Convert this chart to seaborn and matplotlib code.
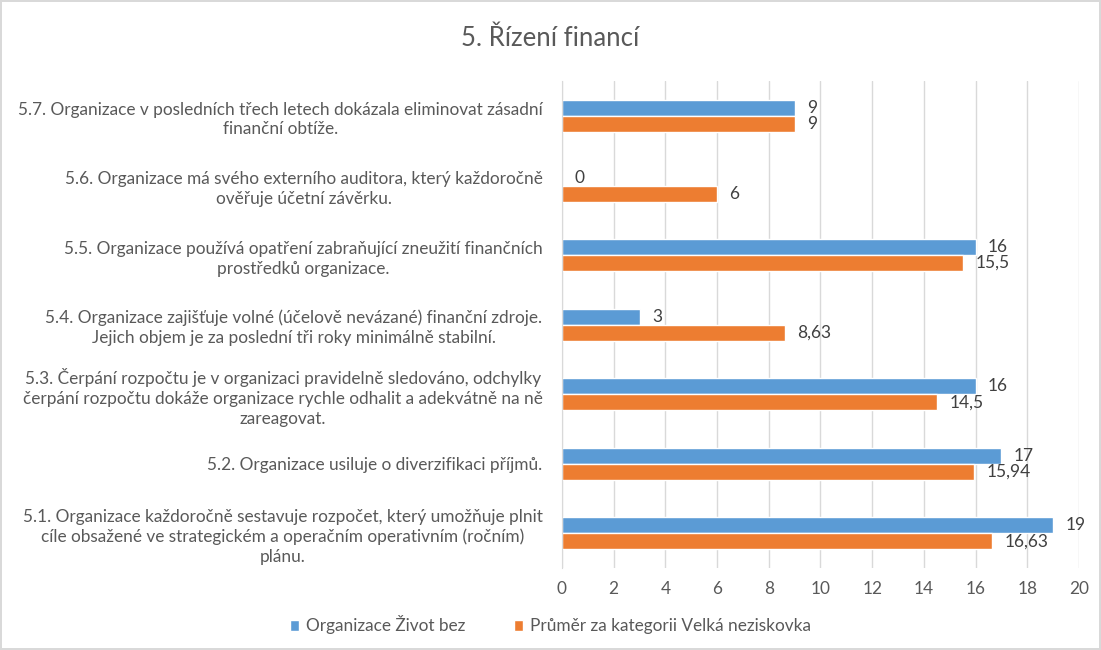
import pandas as pd
import matplotlib.pyplot as plt
import seaborn as sns

otazky = [
    "5.7. Organizace v posledních třech letech dokázala eliminovat zásadní\nfinanční obtíže.",
    "5.6. Organizace má svého externího auditora, který každoročně\nověřuje účetní závěrku.",
    "5.5. Organizace používá opatření zabraňující zneužití finančních\nprostředků organizace.",
    "5.4. Organizace zajišťuje volné (účelově nevázané) finanční zdroje.\nJejich objem je za poslední tři roky minimálně stabilní.",
    "5.3. Čerpání rozpočtu je v organizaci pravidelně sledováno, odchylky\nčerpání rozpočtu dokáže organizace rychle odhalit a adekvátně na ně\nzareagovat.",
    "5.2. Organizace usiluje o diverzifikaci příjmů.",
    "5.1. Organizace každoročně sestavuje rozpočet, který umožňuje plnit\ncíle obsažené ve strategickém a operačním operativním (ročním)\nplánu.",
]
organizace = [9, 0, 16, 3, 16, 17, 19]
prumer = [9, 6, 15.5, 8.63, 14.5, 15.94, 16.63]
serie = ["Organizace Život bez", "Průměr za kategorii Velká neziskovka"]
barvy = ["#5B9BD5", "#ED7D31"]

df = pd.DataFrame({
    "otazka": otazky * 2,
    "hodnota": organizace + prumer,
    "serie": [serie[0]] * len(otazky) + [serie[1]] * len(otazky),
})

sns.set_style("white")
plt.rcParams["font.family"] = ["Lato", "DejaVu Sans"]

fig = plt.figure(figsize=(11.01, 6.5), dpi=100, edgecolor="#d9d9d9", linewidth=1.5)
ax = fig.add_axes([0.5104, 0.126, 0.4696, 0.749])

sns.barplot(df, x="hodnota", y="otazka", hue="serie", palette=barvy,
            orient="h", width=0.46, ax=ax, saturation=1)

for cont in ax.containers:
    labels = [f"{v:g}".replace(".", ",") for v in cont.datavalues]
    ax.bar_label(cont, labels=labels, padding=9, fontsize=12.5, color="#404040")

ax.set_xlim(0, 20)
ax.set_xticks(range(0, 21, 2))
ax.grid(axis="x", color="#d9d9d9", linewidth=1)
ax.set_axisbelow(True)
for s in ["top", "right", "bottom"]:
    ax.spines[s].set_visible(False)
ax.spines["left"].set_color("#d9d9d9")
ax.tick_params(axis="both", length=0, labelsize=12.4, labelcolor="#595959")
ax.tick_params(axis="x", pad=9)
ax.tick_params(axis="y", pad=14)
for t in ax.get_yticklabels():
    t.set_multialignment("center")
    t.set_linespacing(1.3)
ax.set_xlabel("")
ax.set_ylabel("")

ax.legend(loc="lower center", bbox_to_anchor=(0.5, 0.0), bbox_transform=fig.transFigure,
          ncol=2, frameon=False, fontsize=12.4, handlelength=0.55, handleheight=0.55,
          handletextpad=0.4, columnspacing=2.8, labelcolor="#595959")

fig.suptitle("5. Řízení financí", y=0.96, fontsize=18.5, color="#595959")
plt.savefig("out.png", dpi=100, edgecolor=fig.get_edgecolor())
